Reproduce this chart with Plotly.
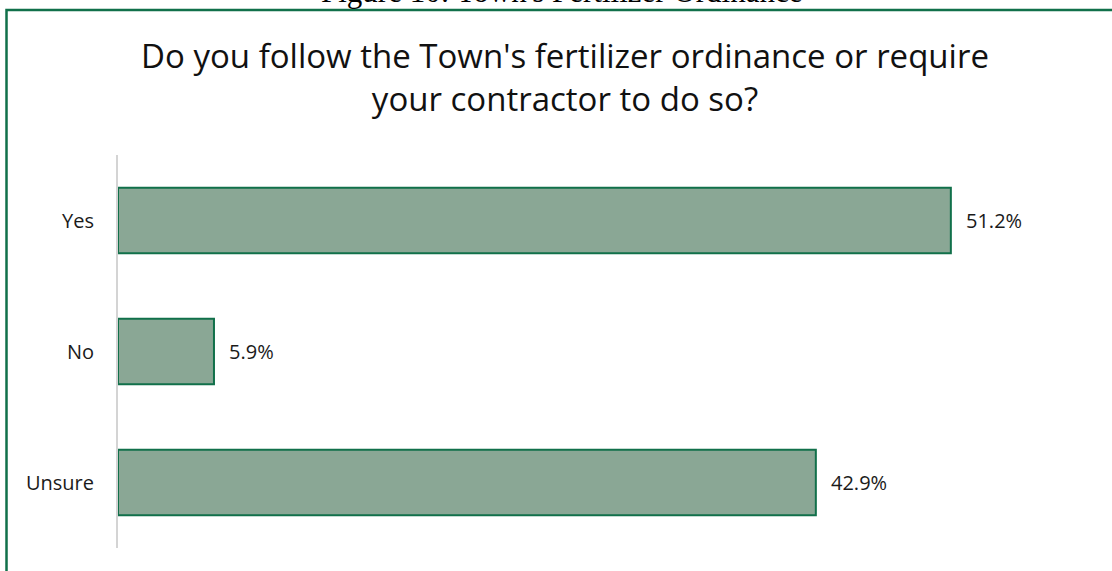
import plotly.graph_objects as go

categories = ["Yes", "No", "Unsure"]
values = [51.2, 5.9, 42.9]
labels = ["51.2%", "5.9%", "42.9%"]

title_text = "Do you follow the Town's fertilizer ordinance or require<br>your contractor to do so?"
caption_text = "Figure 10: Town's Fertilizer Ordinance"

W, H = 1112, 571
ML, MR, MT, MB = 118, 18, 155, 23
PW, PH = W - ML - MR, H - MT - MB

green = "#11704a"
FONT = "Open Sans"

fig = go.Figure()
fig.add_trace(go.Bar(
    y=categories, x=values, orientation="h", width=0.5,
    marker=dict(color="#8aa795", line=dict(color=green, width=2)),
    hoverinfo="skip",
))

for c, v, t in zip(categories, values, labels):
    fig.add_annotation(x=v, y=c, text=t, showarrow=False, xanchor="left",
                       xshift=13, font=dict(family=FONT, size=20, color="#1a1a1a"))

def px_x(p):
    return (p - ML) / PW

def px_y(p):
    return 1 - (p - MT) / PH

fig.add_shape(type="rect", xref="paper", yref="paper",
              x0=px_x(6.5), x1=px_x(1125), y0=px_y(585), y1=px_y(10),
              line=dict(color=green, width=2.5), fillcolor="rgba(0,0,0,0)")

fig.add_annotation(xref="paper", yref="paper", x=px_x(562), y=px_y(-9),
                   xanchor="center", yanchor="middle", showarrow=False,
                   text=caption_text,
                   font=dict(family="Liberation Serif", size=31, color="#000"))

fig.update_layout(
    width=W, height=H,
    margin=dict(l=ML, r=MR, t=MT, b=MB),
    paper_bgcolor="white", plot_bgcolor="white",
    showlegend=False,
    title=dict(text=title_text, x=565 / W, xanchor="center", xref="container",
               y=1 - 68 / H, yanchor="top", yref="container",
               font=dict(family=FONT, size=33, color="#111")),
    xaxis=dict(range=[0, 60], visible=False, fixedrange=True),
    yaxis=dict(categoryorder="array", categoryarray=categories, autorange="reversed",
               showline=True, linecolor="#d4d4d4", linewidth=2, ticks="",
               ticklabelstandoff=18, showgrid=False,
               tickfont=dict(family=FONT, size=20, color="#1a1a1a")),
)

fig.write_html("out.html", config={"displayModeBar": False},
               post_script="document.body.style.margin='0px';")
